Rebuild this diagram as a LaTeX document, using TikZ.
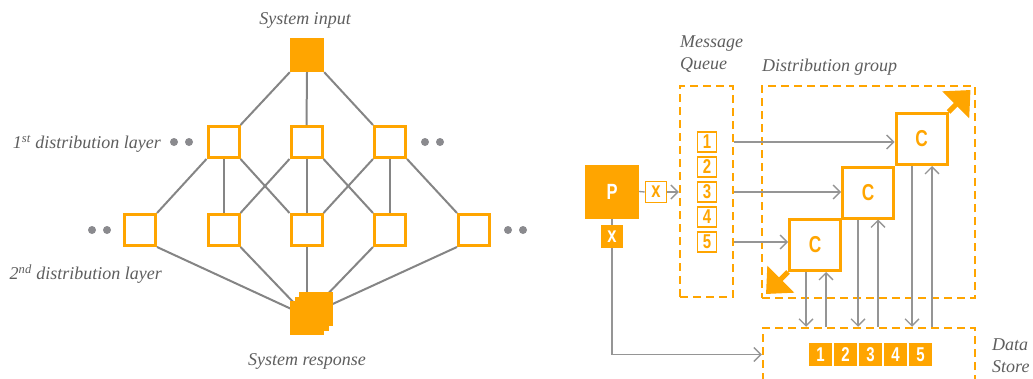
\documentclass[tikz,border=0pt]{standalone}
\usepackage{fontspec}
\setmainfont{Liberation Serif}
\newfontfamily\condf[FakeStretch=0.75]{Liberation Sans}
\usetikzlibrary{arrows.meta}
\definecolor{org}{HTML}{FFA500}
\definecolor{lgray}{HTML}{858585}
\definecolor{agray}{HTML}{959595}
\definecolor{dgray}{HTML}{8A8A8E}
\definecolor{tgray}{HTML}{5E5E5E}
\begin{document}
\begin{tikzpicture}[x=1pt,y=-1pt,
  sq/.style={draw=org,line width=3pt,fill=white,minimum size=31pt,inner sep=0pt},
  fsq/.style={fill=org,minimum size=34pt,inner sep=0pt},
  net/.style={draw=lgray,line width=2pt},
  dotc/.style={fill=dgray,circle,minimum size=8pt,inner sep=0pt},
  lab/.style={font=\fontsize{18}{22}\selectfont\itshape,text=tgray,inner sep=0pt},
  dbox/.style={draw=org,line width=2.5pt,dash pattern=on 8pt off 5pt,inner sep=0pt},
  cbox/.style={draw=org,line width=3pt,fill=white,minimum size=51pt,inner sep=0pt,text=org,font=\condf\bfseries\fontsize{23}{23}\selectfont},
  qbox/.style={draw=org,line width=1.6pt,minimum width=19pt,minimum height=20pt,inner sep=0pt,text=org,font=\condf\bfseries\fontsize{20}{20}\selectfont},
  dsbox/.style={fill=org,minimum size=23pt,inner sep=0pt,text=white,font=\condf\bfseries\fontsize{20}{20}\selectfont},
  arr/.style={draw=agray,line width=1.3pt,-{Straight Barb[length=7pt,width=14pt,line width=1.3pt]}},
  wire/.style={draw=agray,line width=1.3pt},
  big/.style={draw=org,line width=5pt,-{Triangle[length=21pt,width=37pt]}}
]
\useasboundingbox (0,0) rectangle (1033,378);
\clip (0,0) rectangle (1033,378);

% ---------- left network ----------
\node[lab] (tin) at (305,20) {System input};
\node[fsq] (in) at (307,55) {};
\node[sq] (a1) at (223.5,142) {};
\node[sq] (a2) at (306.5,142) {};
\node[sq] (a3) at (390,142) {};
\node[sq] (b1) at (140,230) {};
\node[sq] (b2) at (223.5,230) {};
\node[sq] (b3) at (306.5,230) {};
\node[sq] (b4) at (390,230) {};
\node[sq] (b5) at (474,230) {};

\node[dotc] (l1a) at (174,142) {};
\node[dotc] (l1b) at (189,142) {};
\node[dotc] (r1a) at (425,142) {};
\node[dotc] (r1b) at (440,142) {};
\node[dotc] (l2a) at (92,230) {};
\node[dotc] (l2b) at (107,230) {};
\node[dotc] (r2a) at (508,230) {};
\node[dotc] (r2b) at (523,230) {};

\node[lab,anchor=east] (t1) at (161,144) {1\textsuperscript{st} distribution layer};
\node[lab,anchor=east] (t2) at (162,274) {2\textsuperscript{nd} distribution layer};
\node[lab] (tout) at (307,361) {System response};

\draw[net] (in.south west) -- (a1.north east);
\draw[net] (in.south) -- (a2.north);
\draw[net] (in.south east) -- (a3.north west);
\draw[net] (a1.south west) -- (b1.north east);
\draw[net] (a1.south) -- (b2.north);
\draw[net] (a1.south east) -- (b3.north west);
\draw[net] (a2.south west) -- (b2.north east);
\draw[net] (a2.south) -- (b3.north);
\draw[net] (a2.south east) -- (b4.north west);
\draw[net] (a3.south west) -- (b3.north east);
\draw[net] (a3.south) -- (b4.north);
\draw[net] (a3.south east) -- (b5.north west);

\coordinate (rc) at (306.5,316);
\draw[net] (b1.south east) -- (rc);
\draw[net] (b2.south east) -- (rc);
\draw[net] (b3.south) -- (rc);
\draw[net] (b4.south west) -- (rc);
\draw[net] (b5.south west) -- (rc);

\node[fsq] (s1) at (307,318) {};
\node[fsq] (s2) at (311.5,313.5) {};
\node[fsq] (s3) at (316,309) {};

% ---------- right part ----------
\node[lab,anchor=west,align=left] (tmq) at (680,54) {Message\\Queue};
\node[lab,anchor=west] (tdg) at (762,67) {Distribution group};
\node[lab,anchor=west,align=left] (tds) at (992,356) {Data\\Store};

\node[dbox,minimum width=53pt,minimum height=211pt] (mq) at (706.5,191.5) {};
\node[dbox,minimum width=213pt,minimum height=212pt] (dg) at (868.5,192) {};
\node[dbox,minimum width=212pt,minimum height=90pt] (ds) at (869,373) {};

\node[qbox] (q1) at (707,142) {1};
\node[qbox] (q2) at (707,167) {2};
\node[qbox] (q3) at (707,192) {3};
\node[qbox] (q4) at (707,217) {4};
\node[qbox] (q5) at (707,242) {5};

\node[dsbox] (d1) at (820.5,354.5) {1};
\node[dsbox] (d2) at (845.5,354.5) {2};
\node[dsbox] (d3) at (870.5,354.5) {3};
\node[dsbox] (d4) at (895.5,354.5) {4};
\node[dsbox] (d5) at (920.5,354.5) {5};

\node[fill=org,minimum size=54pt,inner sep=0pt,text=white,font=\condf\bfseries\fontsize{22}{22}\selectfont] (P) at (612,191.5) {P};
\node[draw=org,line width=1.6pt,fill=white,minimum width=21pt,minimum height=21pt,inner sep=0pt,text=org,font=\condf\bfseries\fontsize{22}{22}\selectfont] (xa) at (656,192) {x};

\draw[arr] (P.south) |- (d1 -| ds.west);
\node[fill=org,minimum width=22pt,minimum height=23pt,inner sep=0pt,text=white,font=\condf\bfseries\fontsize{22}{22}\selectfont] (xb) at (612,236.5) {x};

\node[cbox] (c1) at (815,245) {C};
\node[cbox] (c2) at (868,192.5) {C};
\node[cbox] (c3) at (921.5,139) {C};

\draw[big] (c3.north east) -- ++(22,-22);
\draw[big] (c1.south west) -- ++(-22,22);

\draw[wire] (P.east) -- (xa.west);
\draw[arr] (xa.east) -- (mq.west |- xa.east);

\draw[arr] (q1 -| mq.east) -- (q1 -| c3.west);
\draw[arr] (q3 -| mq.east) -- (q3 -| c2.west);
\draw[arr] (q5 -| mq.east) -- (q5 -| c1.west);

\coordinate (v1) at ([xshift=-9pt]c1.south);
\coordinate (u1) at ([xshift=11pt]c1.south);
\coordinate (v2) at ([xshift=-10pt]c2.south);
\coordinate (u2) at ([xshift=10pt]c2.south);
\coordinate (v3) at ([xshift=-9.5pt]c3.south);
\coordinate (u3) at ([xshift=10.5pt]c3.south);
\draw[arr] (v1) -- (v1 |- ds.north);
\draw[arr] (u1 |- ds.north) -- (u1);
\draw[arr] (v2) -- (v2 |- ds.north);
\draw[arr] (u2 |- ds.north) -- (u2);
\draw[arr] (v3) -- (v3 |- ds.north);
\draw[arr] (u3 |- ds.north) -- (u3);
\end{tikzpicture}
\end{document}
